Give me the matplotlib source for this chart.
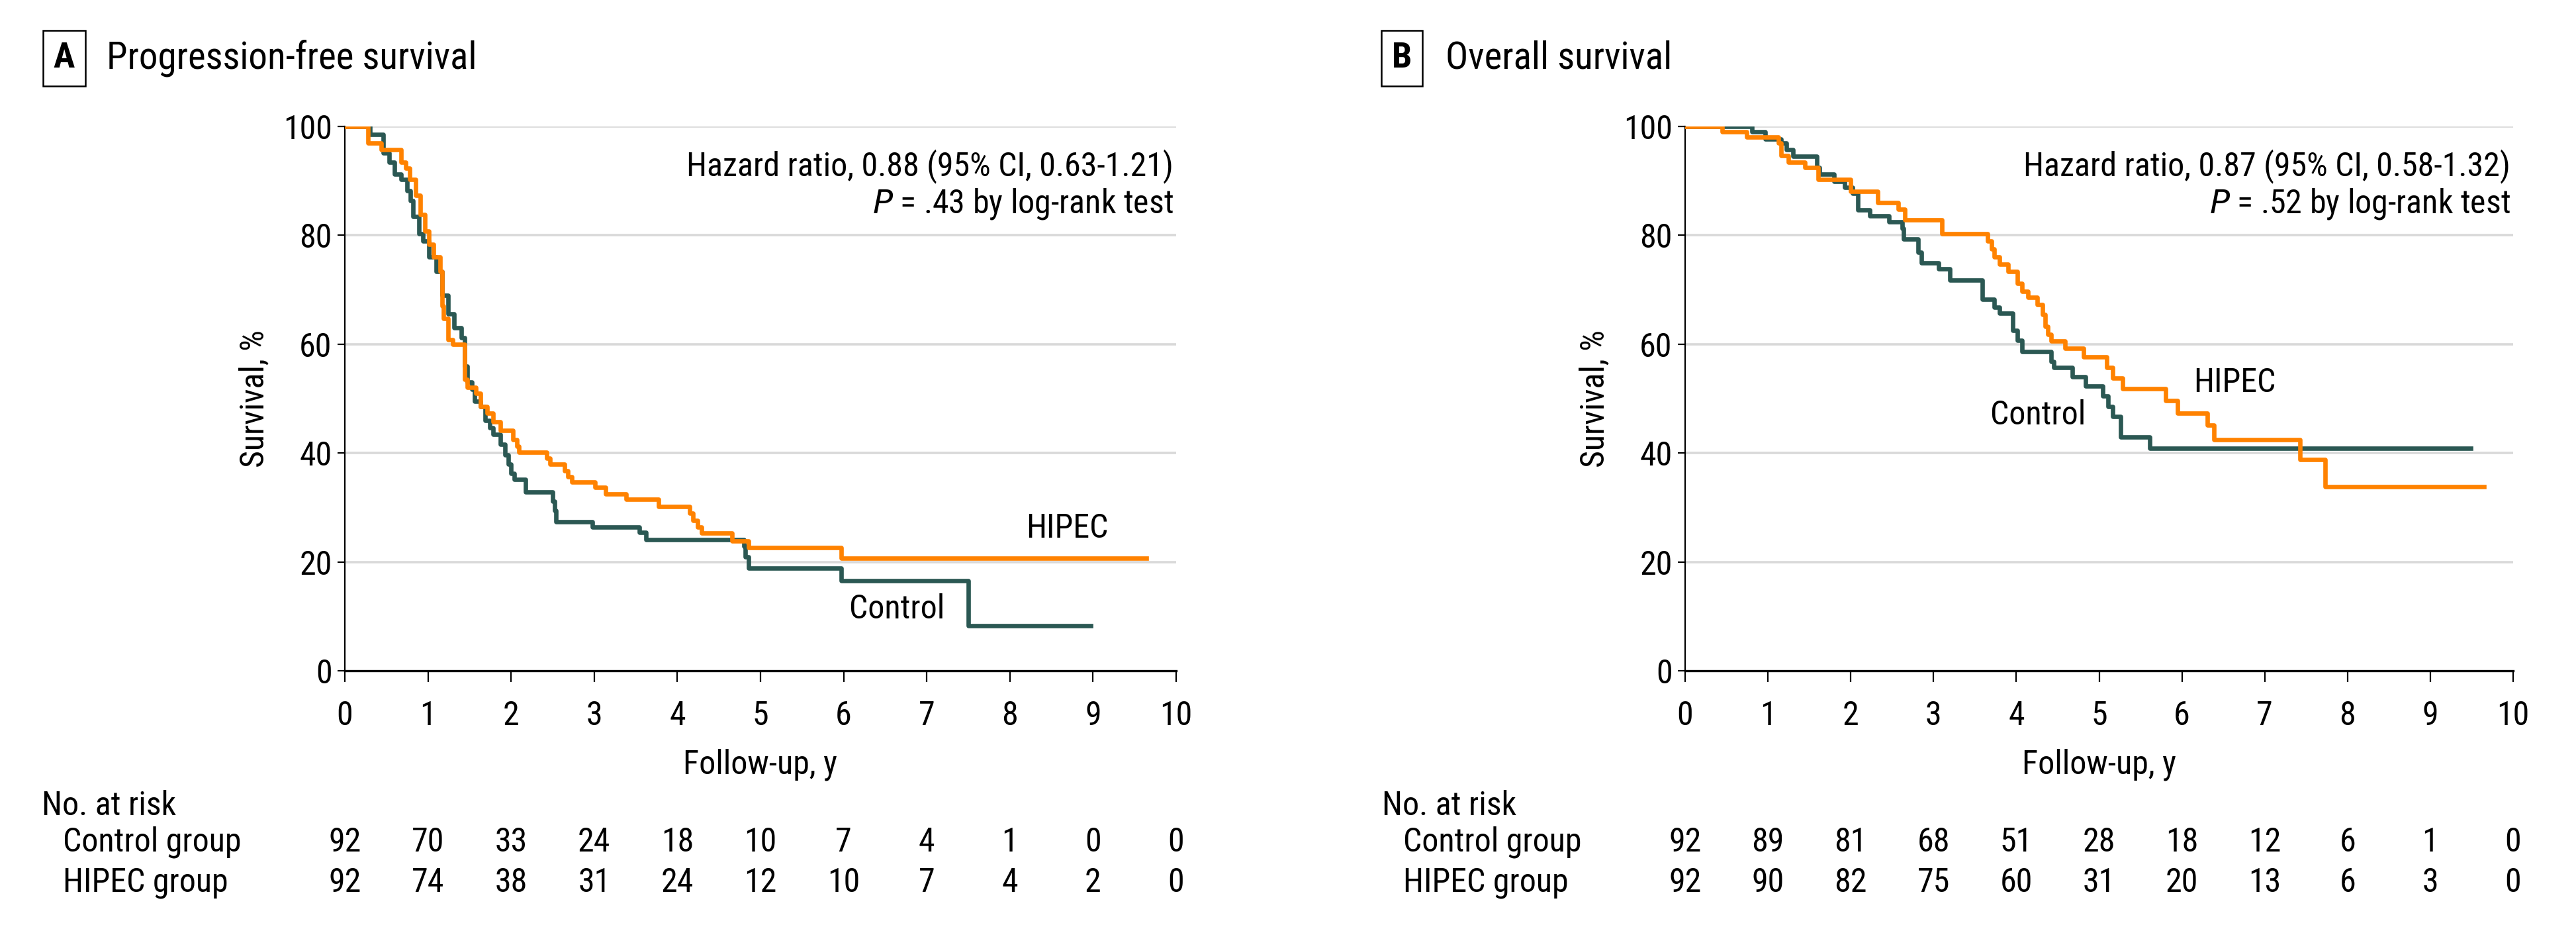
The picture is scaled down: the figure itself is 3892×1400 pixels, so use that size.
import matplotlib
matplotlib.use("Agg")
import matplotlib.pyplot as plt
from matplotlib import font_manager
from matplotlib.transforms import blended_transform_factory

# pick a narrow sans if one is installed
installed = {(f.name, f.stretch) for f in font_manager.fontManager.ttflist}
names = {n for n, _ in installed}
family = 'DejaVu Sans'
stretch = 'normal'
for cand in ['Liberation Sans Narrow', 'Roboto Condensed', 'Open Sans Condensed',
             'Noto Sans Condensed', 'DejaVu Sans Condensed']:
    if cand in names:
        family = cand
        break
else:
    for n, st in installed:
        if n in ('Roboto', 'Noto Sans', 'Open Sans', 'DejaVu Sans') and 'condensed' in str(st):
            family, stretch = n, 'condensed'
            break
plt.rcParams['font.family'] = [family, 'DejaVu Sans']
plt.rcParams['font.stretch'] = stretch

ORANGE = '#ff8200'
TEAL = '#2b5853'
GRID = '#d9d9d9'

# Panel A: progression-free survival (step times in years, survival %)
pfs_ctrl_t = [0, 0.30, 0.46, 0.53, 0.60, 0.68, 0.75, 0.79, 0.82, 0.89, 0.94, 1.01, 1.10, 1.17,
              1.24, 1.31, 1.40, 1.44, 1.47, 1.53, 1.56, 1.63, 1.69, 1.74, 1.78, 1.87, 1.93,
              1.97, 2.00, 2.04, 2.17, 2.50, 2.52, 2.54, 2.98, 3.54, 3.62, 4.80, 4.82, 4.86,
              5.97, 7.50, 8.97]
pfs_ctrl_s = [100, 98.5, 95.1, 93.4, 91.2, 90.3, 88.2, 86.4, 83.4, 80.3, 79.0, 76.0, 73.4, 69.0,
              65.6, 63.0, 61.2, 56.0, 53.0, 51.7, 49.5, 48.6, 46.0, 44.7, 43.4, 41.6, 39.6,
              38.0, 36.3, 35.1, 32.9, 31.1, 29.4, 27.4, 26.4, 25.4, 24.1, 22.9, 20.9, 18.9,
              16.5, 8.3, 8.3]
pfs_hipec_t = [0, 0.28, 0.44, 0.68, 0.73, 0.78, 0.85, 0.91, 0.96, 1.01, 1.07, 1.15, 1.17, 1.19,
               1.24, 1.30, 1.44, 1.47, 1.58, 1.63, 1.71, 1.78, 1.87, 2.02, 2.07, 2.09, 2.43,
               2.47, 2.64, 2.68, 2.73, 3.01, 3.14, 3.38, 3.77, 4.15, 4.19, 4.24, 4.29, 4.66,
               4.86, 5.97, 9.64]
pfs_hipec_s = [100, 96.9, 95.7, 93.4, 92.3, 90.3, 87.3, 83.8, 80.8, 78.4, 76.0, 73.4, 67.0, 64.7,
               60.8, 60.0, 53.5, 52.1, 51.0, 48.6, 47.3, 45.8, 44.2, 42.4, 41.2, 40.1, 39.0,
               38.0, 36.7, 35.7, 34.7, 33.7, 32.5, 31.5, 30.2, 29.0, 27.6, 26.4, 25.3, 23.9,
               22.6, 20.7, 20.7]

# Panel B: overall survival
os_ctrl_t = [0, 0.81, 0.97, 1.16, 1.22, 1.30, 1.59, 1.62, 1.80, 1.93, 2.02, 2.09, 2.23, 2.46,
             2.62, 2.64, 2.81, 2.85, 3.06, 3.20, 3.59, 3.73, 3.80, 3.96, 4.01, 4.07, 4.42,
             4.45, 4.68, 4.84, 5.04, 5.11, 5.16, 5.26, 5.61, 9.49]
os_ctrl_s = [100, 99.0, 97.7, 96.9, 95.8, 94.5, 92.5, 91.2, 89.9, 88.8, 87.7, 84.7, 83.6, 82.5,
             81.3, 79.3, 76.9, 74.9, 73.8, 71.8, 68.3, 66.8, 65.7, 62.5, 60.7, 58.6, 56.8,
             55.7, 54.0, 52.3, 50.5, 48.6, 46.7, 42.9, 40.9, 40.9]
os_hipec_t = [0, 0.45, 0.74, 1.13, 1.16, 1.25, 1.45, 1.61, 2.00, 2.33, 2.57, 2.65, 3.10, 3.65,
              3.70, 3.73, 3.80, 3.90, 4.01, 4.07, 4.14, 4.25, 4.32, 4.35, 4.38, 4.42, 4.59,
              4.81, 5.09, 5.16, 5.28, 5.80, 5.95, 6.31, 6.39, 7.43, 7.73, 9.65]
os_hipec_s = [100, 99.0, 98.0, 96.9, 94.7, 93.4, 92.4, 90.3, 88.1, 86.0, 84.8, 82.8, 80.3, 79.0,
              77.5, 76.0, 74.7, 73.3, 71.2, 69.7, 68.6, 67.3, 65.5, 63.3, 61.8, 60.6, 59.2,
              57.7, 55.7, 53.8, 51.8, 49.6, 47.3, 45.1, 42.5, 38.8, 33.8, 33.8]

risk_years = list(range(0, 11))
pfs_risk_ctrl = [92, 70, 33, 24, 18, 10, 7, 4, 1, 0, 0]
pfs_risk_hipec = [92, 74, 38, 31, 24, 12, 10, 7, 4, 2, 0]
os_risk_ctrl = [92, 89, 81, 68, 51, 28, 18, 12, 6, 1, 0]
os_risk_hipec = [92, 90, 82, 75, 60, 31, 20, 13, 6, 3, 0]

W, H = 3892, 1400
fig = plt.figure(figsize=(W / 100, H / 100), dpi=100)

if family == 'DejaVu Sans' and stretch == 'normal':
    FS, FT = 30.5, 32
else:
    FS, FT = 36, 41

panels = [
    dict(letter='A', title='Progression-free survival', left=521, right=1777,
         ctrl=(pfs_ctrl_t, pfs_ctrl_s), hipec=(pfs_hipec_t, pfs_hipec_s),
         hr='Hazard ratio, 0.88 (95% CI, 0.63-1.21)', p='.43',
         hipec_lab=(8.69, 26.1), ctrl_lab=(6.64, 11.3),
         risk_c=pfs_risk_ctrl, risk_h=pfs_risk_hipec, box_x=97, title_x=161),
    dict(letter='B', title='Overall survival', left=2546, right=3797,
         ctrl=(os_ctrl_t, os_ctrl_s), hipec=(os_hipec_t, os_hipec_s),
         hr='Hazard ratio, 0.87 (95% CI, 0.58-1.32)', p='.52',
         hipec_lab=(6.64, 52.9), ctrl_lab=(4.26, 47.0),
         risk_c=os_risk_ctrl, risk_h=os_risk_hipec, box_x=2118, title_x=2184),
]

top_px, bot_px = 191, 1013

for p in panels:
    ax = fig.add_axes([p['left'] / W, 1 - bot_px / H, (p['right'] - p['left']) / W,
                       (bot_px - top_px) / H])
    ax.set_xlim(0, 10)
    ax.set_ylim(0, 100)
    for g in [20, 40, 60, 80, 100]:
        ax.axhline(g, color=GRID, lw=2.6, zorder=0)
    ax.step(p['ctrl'][0], p['ctrl'][1], where='post', color=TEAL, lw=4.8, zorder=3)
    ax.step(p['hipec'][0], p['hipec'][1], where='post', color=ORANGE, lw=4.8, zorder=4)

    for s in ['top', 'right']:
        ax.spines[s].set_visible(False)
    ax.spines['left'].set_linewidth(1.6)
    ax.spines['bottom'].set_linewidth(2.4)
    ax.set_xticks(range(0, 11))
    ax.set_yticks(range(0, 101, 20))
    ax.tick_params(axis='x', length=12, width=1.6, labelsize=FS, pad=20)
    ax.tick_params(axis='y', length=8, width=1.6, labelsize=FS, pad=6)
    ax.set_xlabel('Follow-up, y', fontsize=FS, labelpad=18)
    ax.set_ylabel('Survival, %', fontsize=FS, labelpad=14)

    ax.text(9.97, 92.7, p['hr'], ha='right', va='center', fontsize=FS)
    ax.text(9.97, 85.8, r'$P$' + ' = ' + p['p'] + ' by log-rank test', ha='right',
            va='center', fontsize=FS)
    ax.text(*p['hipec_lab'], 'HIPEC', ha='center', va='center', fontsize=FS)
    ax.text(*p['ctrl_lab'], 'Control', ha='center', va='center', fontsize=FS)

    # panel title with boxed letter
    fig.text(p['box_x'] / W, 1 - 88 / H, p['letter'], ha='center', va='center',
             fontsize=FT - 2, fontweight='bold',
             bbox=dict(boxstyle='square,pad=0.3', fc='white', ec='black', lw=1.8))
    fig.text(p['title_x'] / W, 1 - 88 / H, p['title'], ha='left', va='center', fontsize=FT)

    # number at risk table
    tr = blended_transform_factory(ax.transData, fig.transFigure)
    lx = (p['left'] - 458) / W
    fig.text(lx, 1 - 1217 / H, 'No. at risk', ha='left', va='center', fontsize=FS)
    fig.text(lx + 32 / W, 1 - 1272 / H, 'Control group', ha='left', va='center', fontsize=FS)
    fig.text(lx + 32 / W, 1 - 1333 / H, 'HIPEC group', ha='left', va='center', fontsize=FS)
    for yr, c, h in zip(risk_years, p['risk_c'], p['risk_h']):
        ax.text(yr, 1 - 1272 / H, str(c), transform=tr, ha='center', va='center', fontsize=FS)
        ax.text(yr, 1 - 1333 / H, str(h), transform=tr, ha='center', va='center', fontsize=FS)

fig.savefig('out.png', dpi=100, facecolor='white')
